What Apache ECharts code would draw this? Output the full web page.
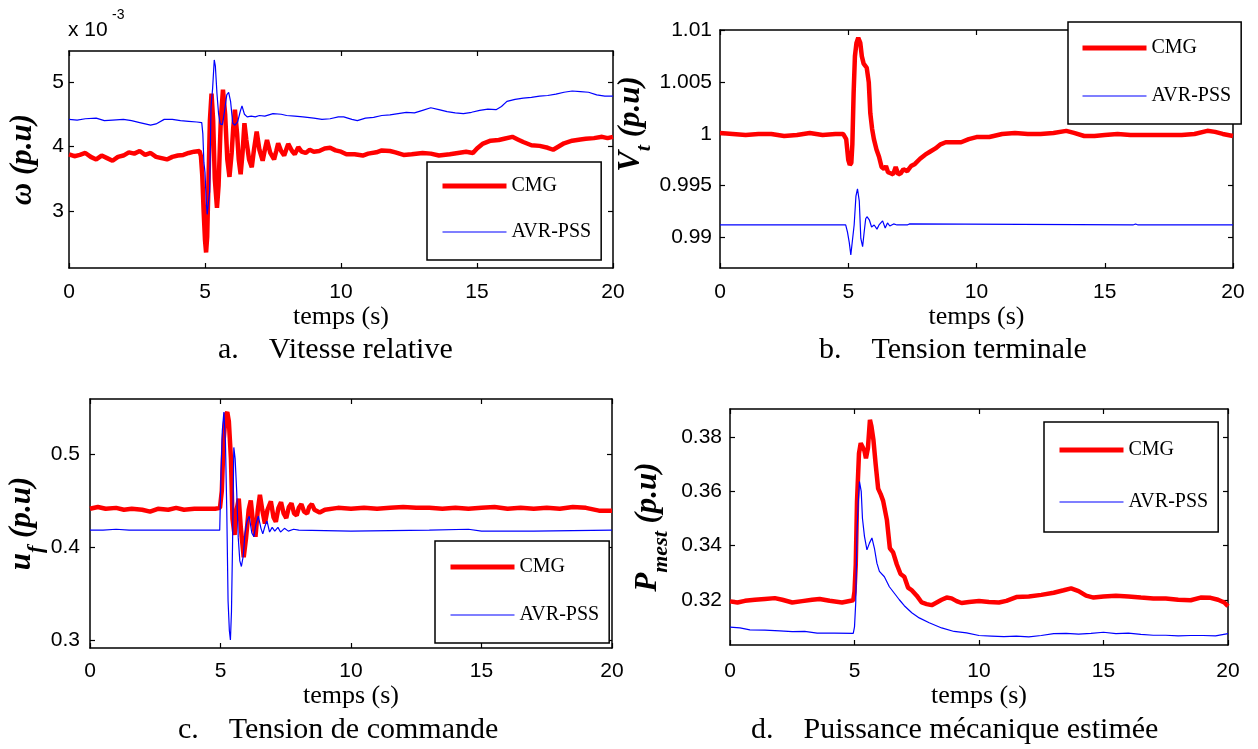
<!DOCTYPE html>
<html><head><meta charset="utf-8">
<script src="https://cdn.jsdelivr.net/npm/echarts@6/dist/echarts.min.js"></script>
<style>html,body{margin:0;padding:0;background:#fff}#c{width:1258px;height:749px}</style>
</head><body><div id="c"></div><script>
// ---- data: [time (s), value] ----
const timeTicks = [0, 5, 10, 15, 20];
const omegaTicks = [3, 4, 5];              // x 10^-3
const vtTicks = [0.99, 0.995, 1, 1.005, 1.01];
const ufTicks = [0.3, 0.4, 0.5];
const pmTicks = [0.32, 0.34, 0.36, 0.38];
const seriesNames = ['CMG', 'AVR-PSS'];

// a. relative speed (units of 1e-3 p.u.)
const omegaCMG = [[0,3.88],[0.2,3.85],[0.4,3.87],[0.6,3.90],[0.8,3.84],[1.0,3.80],[1.2,3.86],[1.4,3.82],[1.6,3.78],[1.8,3.84],[2.0,3.86],[2.2,3.91],[2.4,3.89],[2.6,3.93],[2.8,3.87],[3.0,3.90],[3.2,3.84],[3.4,3.82],[3.6,3.80],[3.8,3.84],[4.0,3.86],[4.2,3.87],[4.4,3.90],[4.6,3.92],[4.8,3.93],
[4.85,3.85],[4.9,3.55],[4.95,3.0],[5.0,2.55],[5.04,2.36],[5.08,2.6],[5.12,3.3],[5.18,4.4],[5.24,4.82],[5.30,4.4],[5.36,3.5],[5.44,3.05],[5.50,3.4],[5.58,4.4],[5.66,4.88],[5.74,4.5],[5.82,3.8],[5.90,3.53],[5.98,3.9],
[6.04,4.3],[6.10,4.57],[6.18,4.2],[6.24,3.8],[6.31,3.57],[6.38,3.9],[6.45,4.36],[6.52,4.1],[6.62,3.8],[6.72,3.68],[6.80,3.95],[6.90,4.23],
[7.0,3.95],[7.12,3.78],[7.2,3.95],[7.28,4.10],[7.4,3.9],[7.54,3.80],[7.62,3.93],[7.69,4.05],[7.8,3.93],[7.91,3.86],
[8.0,3.97],[8.06,4.04],[8.2,3.93],[8.3,3.88],[8.43,3.99],[8.55,3.92],[8.7,3.90],[8.85,3.95],
[9.0,3.92],[9.2,3.93],[9.4,3.97],[9.6,3.98],[9.8,3.94],[10.0,3.92],[10.2,3.88],[10.5,3.88],[10.8,3.86],[11.0,3.89],[11.3,3.91],[11.5,3.94],[11.8,3.93],[12.0,3.91],[12.3,3.87],[12.6,3.88],[13.0,3.90],[13.3,3.89],[13.6,3.86],[14.0,3.88],[14.3,3.90],[14.6,3.92],[14.85,3.90],[15.0,3.97],[15.2,4.04],[15.5,4.09],[15.8,4.10],[16.0,4.12],[16.3,4.15],[16.5,4.11],[16.7,4.07],[17.0,4.02],[17.3,4.01],[17.6,3.98],[17.8,3.95],[18.0,4.00],[18.2,4.05],[18.5,4.09],[18.8,4.11],[19.0,4.12],[19.3,4.13],[19.6,4.15],[19.8,4.13],[20.0,4.15]];
const omegaPSS = [[0,4.42],[0.3,4.41],[0.6,4.43],[1.0,4.44],[1.3,4.40],[1.6,4.41],[2.0,4.42],[2.3,4.40],[2.6,4.37],[3.0,4.33],[3.2,4.35],[3.5,4.42],[3.8,4.42],[4.1,4.40],[4.4,4.39],[4.7,4.38],[4.88,4.37],[4.92,4.20],[4.96,3.75],[5.0,3.6],[5.04,3.2],[5.08,2.95],[5.12,2.98],[5.17,3.3],[5.22,4.6],[5.28,4.9],[5.34,5.34],[5.38,5.25],[5.44,4.82],[5.50,4.5],[5.56,4.35],[5.64,4.34],[5.72,4.55],[5.80,4.80],[5.87,4.84],[5.94,4.7],[6.02,4.36],[6.10,4.33],[6.20,4.38],[6.30,4.55],[6.36,4.63],[6.45,4.50],[6.55,4.46],[6.7,4.47],[6.85,4.46],[7.0,4.48],[7.2,4.47],[7.5,4.51],[7.8,4.50],[8.0,4.48],[8.3,4.47],[8.6,4.46],[9.0,4.44],[9.3,4.42],[9.6,4.43],[9.9,4.46],[10.1,4.46],[10.4,4.42],[10.6,4.40],[10.9,4.44],[11.2,4.45],[11.5,4.48],[11.8,4.49],[12.1,4.51],[12.4,4.53],[12.7,4.52],[13.0,4.56],[13.3,4.60],[13.6,4.57],[13.9,4.54],[14.2,4.52],[14.5,4.51],[14.8,4.53],[15.1,4.56],[15.4,4.58],[15.7,4.57],[15.9,4.62],[16.1,4.70],[16.4,4.73],[16.7,4.75],[17.0,4.76],[17.3,4.78],[17.6,4.79],[17.9,4.81],[18.2,4.84],[18.5,4.86],[18.8,4.85],[19.1,4.84],[19.4,4.80],[19.7,4.78],[20.0,4.78]];

// b. terminal voltage
const vtCMG = [[0,1.0001],[0.5,1.0000],[1.0,0.9999],[1.5,1.0000],[2.0,1.0000],[2.5,0.9998],[3.0,0.9999],[3.5,1.0001],[4.0,0.9999],[4.5,1.0000],[4.8,1.0000],[4.92,0.9995],[5.0,0.9975],[5.06,0.9970],[5.12,0.9972],[5.16,0.9990],[5.21,1.0040],[5.26,1.0075],[5.32,1.0088],[5.39,1.0093],[5.47,1.0088],[5.53,1.0075],[5.6,1.0068],[5.72,1.0064],[5.8,1.0050],[5.86,1.0020],[5.93,1.0005],[6.0,0.9995],[6.1,0.9985],[6.2,0.9978],[6.3,0.9968],[6.4,0.9966],[6.47,0.9969],[6.55,0.9963],[6.65,0.9962],[6.75,0.9961],[6.85,0.9968],[6.95,0.9961],[7.05,0.9962],[7.15,0.9966],[7.3,0.9964],[7.45,0.9969],[7.6,0.9971],[7.8,0.9976],[8.0,0.9980],[8.2,0.9983],[8.4,0.9986],[8.6,0.9990],[8.8,0.9992],[9.0,0.9992],[9.4,0.9992],[9.7,0.9995],[10.0,0.9997],[10.5,0.9997],[11.0,1.0000],[11.5,1.0001],[12.0,1.0000],[12.5,1.0000],[13.0,1.0001],[13.5,1.0003],[13.8,1.0001],[14.2,0.9998],[14.6,0.9998],[15.0,0.9999],[15.5,1.0000],[16.0,0.9999],[16.5,0.9999],[17.0,0.9999],[17.5,0.9999],[18.0,0.9999],[18.5,1.0000],[19.0,1.0003],[19.3,1.0002],[19.6,1.0000],[20.0,0.9998]];
const vtPSS = [[0,0.9912],[4.9,0.9912],[4.97,0.9905],[5.04,0.9895],[5.10,0.9883],[5.17,0.9884],[5.23,0.9912],[5.30,0.9940],[5.36,0.9947],[5.43,0.9935],[5.49,0.9899],[5.56,0.9891],[5.62,0.9905],[5.68,0.9918],[5.73,0.9920],[5.82,0.9917],[5.91,0.9910],[6.01,0.9912],[6.12,0.9908],[6.2,0.9912],[6.34,0.9916],[6.44,0.9909],[6.53,0.9914],[6.62,0.9911],[6.77,0.9913],[6.9,0.9912],[7.3,0.9912],[7.38,0.9913],[7.45,0.9912],[16.1,0.9912],[16.2,0.9913],[16.3,0.9912],[20,0.9912]];

// c. control voltage
const ufCMG = [[0,0.441],[0.3,0.443],[0.6,0.441],[1.0,0.442],[1.3,0.440],[1.6,0.441],[2.0,0.440],[2.3,0.438],[2.6,0.441],[3.0,0.440],[3.3,0.442],[3.6,0.440],[4.0,0.441],[4.4,0.441],[4.8,0.441],[4.98,0.442],[5.05,0.460],[5.12,0.515],[5.2,0.542],[5.26,0.545],[5.32,0.535],[5.40,0.495],[5.46,0.430],[5.54,0.413],[5.62,0.440],[5.70,0.452],[5.78,0.420],[5.89,0.389],[5.98,0.410],[6.08,0.440],[6.16,0.450],[6.25,0.425],[6.34,0.411],[6.43,0.440],[6.51,0.456],[6.60,0.440],[6.70,0.425],[6.80,0.440],[6.93,0.449],[7.03,0.432],[7.12,0.427],[7.22,0.442],[7.32,0.448],[7.42,0.436],[7.52,0.431],[7.62,0.443],[7.72,0.447],[7.82,0.436],[7.92,0.434],[8.0,0.442],[8.1,0.446],[8.2,0.438],[8.32,0.436],[8.4,0.443],[8.5,0.446],[8.6,0.440],[8.8,0.437],[9.0,0.440],[9.5,0.442],[10,0.441],[10.5,0.442],[11,0.441],[11.5,0.442],[12,0.443],[12.5,0.442],[13,0.442],[13.5,0.441],[14,0.442],[14.5,0.441],[15,0.442],[15.5,0.443],[16,0.441],[16.5,0.442],[17,0.441],[17.5,0.442],[18,0.441],[18.5,0.443],[19,0.442],[19.5,0.439],[20,0.439]];
const ufPSS = [[0,0.418],[0.5,0.418],[1.0,0.419],[1.5,0.418],[2.0,0.418],[3.0,0.418],[4.0,0.418],[4.97,0.418],[5.02,0.48],[5.07,0.525],[5.13,0.545],[5.19,0.512],[5.24,0.44],[5.29,0.342],[5.34,0.31],[5.38,0.300],[5.42,0.33],[5.46,0.40],[5.51,0.507],[5.56,0.495],[5.62,0.46],[5.68,0.41],[5.74,0.385],[5.80,0.379],[5.87,0.39],[5.94,0.415],[6.02,0.428],[6.10,0.433],[6.20,0.415],[6.28,0.411],[6.36,0.425],[6.45,0.433],[6.55,0.420],[6.62,0.414],[6.70,0.422],[6.78,0.428],[6.88,0.416],[6.98,0.421],[7.08,0.417],[7.2,0.421],[7.3,0.416],[7.45,0.420],[7.6,0.417],[7.8,0.419],[8,0.418],[10,0.417],[13,0.418],[14.5,0.419],[15,0.417],[17,0.417],[20,0.418]];

// d. estimated mechanical power
const pmCMG = [[0,0.3194],[0.3,0.3190],[0.6,0.3196],[1.0,0.3200],[1.4,0.3203],[1.8,0.3206],[2.1,0.3200],[2.5,0.3190],[2.9,0.3195],[3.3,0.3200],[3.6,0.3203],[4.0,0.3196],[4.5,0.3190],[4.95,0.3198],[5.0,0.3230],[5.05,0.3330],[5.1,0.3560],[5.18,0.3740],[5.25,0.3778],[5.32,0.3772],[5.4,0.3750],[5.46,0.3722],[5.54,0.3760],[5.62,0.3864],[5.68,0.3840],[5.76,0.3790],[5.85,0.3700],[5.95,0.3610],[6.05,0.3590],[6.15,0.3565],[6.3,0.3495],[6.42,0.3390],[6.55,0.3375],[6.7,0.3330],[6.85,0.3295],[7.0,0.3285],[7.15,0.3245],[7.3,0.3235],[7.5,0.3215],[7.7,0.3190],[7.9,0.3184],[8.1,0.3180],[8.3,0.3190],[8.5,0.3200],[8.7,0.3208],[8.9,0.3205],[9.1,0.3195],[9.3,0.3188],[9.6,0.3192],[10,0.3195],[10.4,0.3192],[10.8,0.3190],[11.1,0.3196],[11.5,0.3210],[12.0,0.3212],[12.5,0.3218],[13.0,0.3226],[13.4,0.3235],[13.7,0.3242],[14.0,0.3232],[14.3,0.3215],[14.6,0.3208],[15.0,0.3212],[15.5,0.3215],[16.0,0.3212],[16.5,0.3208],[17.0,0.3205],[17.5,0.3205],[18.0,0.3200],[18.5,0.3198],[18.9,0.3208],[19.3,0.3207],[19.6,0.3200],[19.85,0.3190],[20,0.3176]];
const pmPSS = [[0,0.3099],[0.4,0.3096],[0.8,0.3089],[1.4,0.3088],[2.0,0.3085],[2.5,0.3082],[3.0,0.3083],[3.5,0.3077],[4.2,0.3077],[4.95,0.3076],[5.0,0.3100],[5.05,0.3190],[5.1,0.3446],[5.15,0.3560],[5.2,0.3636],[5.27,0.3600],[5.32,0.3500],[5.4,0.3434],[5.5,0.3384],[5.6,0.3409],[5.7,0.3428],[5.8,0.3390],[5.9,0.3335],[6.0,0.3305],[6.2,0.3285],[6.4,0.3248],[6.6,0.3224],[6.8,0.3200],[7.0,0.3178],[7.3,0.3152],[7.6,0.3133],[8.0,0.3115],[8.5,0.3096],[9.0,0.3083],[9.5,0.3078],[10,0.3068],[10.5,0.3066],[11,0.3064],[11.5,0.3066],[12,0.3063],[12.5,0.3068],[13,0.3075],[13.5,0.3076],[14,0.3073],[14.5,0.3076],[15,0.3080],[15.5,0.3075],[16,0.3077],[16.5,0.3072],[17,0.3069],[17.5,0.3069],[18,0.3067],[18.5,0.3068],[19,0.3068],[19.5,0.3067],[20,0.3075]];

// ---- layout ----
const SANS = 'Liberation Sans', SERIF = 'Liberation Serif';
const panels = [
  {grid:{left:69, top:51, width:544, height:217}, ymin:2.119, ymax:5.479, ticks:omegaTicks, data:[omegaCMG, omegaPSS],
   name:'{m|ω (p.u)}', nameGap:22, labelMargin:5, xNameGap:26, xLabelMargin:14,
   legend:{left:427, top:162, padding:[14,10,18,13], gap:26}},
  {grid:{left:720, top:30, width:513, height:238}, ymin:0.98704, ymax:1.01005, ticks:vtTicks, data:[vtCMG, vtPSS],
   name:'{m0|V}{s|t}{m| (p.u)}', nameGap:44, labelMargin:8, xNameGap:26, xLabelMargin:14,
   legend:{left:1068, top:22, padding:[16,10,18,12], gap:28}},
  {grid:{left:90, top:399, width:522, height:249}, ymin:0.2914, ymax:0.559, ticks:ufTicks, data:[ufCMG, ufPSS],
   name:'{m|u}{s|f}{m| (p.u)}', nameGap:40, labelMargin:10, xNameGap:29, xLabelMargin:13,
   legend:{left:435, top:541, padding:[16,10,18,13], gap:28}},
  {grid:{left:730, top:409, width:498, height:236}, ymin:0.3033, ymax:0.3904, ticks:pmTicks, data:[pmCMG, pmPSS],
   name:'{m|P}{s|mest}{m| (p.u)}', nameGap:58, labelMargin:8, xNameGap:34, xLabelMargin:16,
   legend:{left:1044, top:422, padding:[18,10,20,13], gap:32}}
];

const frame = {show:true, onZero:false, lineStyle:{color:'#000', width:1.5}};
const tick = (vals) => ({show:true, inside:true, length:5, lineStyle:{color:'#000', width:1.2}, customValues:vals});
const mStyle = {fontFamily:SERIF, fontStyle:'italic', fontWeight:'bold', fontSize:31, color:'#000', padding:[0,0,9,0], verticalAlign:'bottom'};
const nameRich = {
  m: mStyle,
  m0: Object.assign({}, mStyle, {padding:[0,0,9,50]}),
  s:{fontFamily:SERIF, fontStyle:'italic', fontWeight:'bold', fontSize:22, color:'#000', verticalAlign:'bottom'}
};
const legendItems = [
  {name:seriesNames[0], lineStyle:{color:'#ff0000', width:5}},
  {name:seriesNames[1], lineStyle:{color:'#0000ff', width:1.2}}
];

const grid = [], xAxis = [], yAxis = [], series = [], legend = [];
panels.forEach((p, g) => {
  grid.push(Object.assign({containLabel:false, show:false}, p.grid));
  xAxis.push({type:'value', gridIndex:g, position:'bottom', min:0, max:20, axisLine:frame, axisTick:tick(timeTicks),
    axisLabel:{customValues:timeTicks, margin:p.xLabelMargin, fontFamily:SANS, fontSize:21, color:'#000'},
    splitLine:{show:false}, name:'temps (s)', nameLocation:'middle', nameGap:p.xNameGap,
    nameTextStyle:{fontFamily:SERIF, fontSize:26, color:'#000'}});
  xAxis.push({type:'value', gridIndex:g, position:'top', min:0, max:20, axisLine:frame, axisTick:tick(timeTicks),
    axisLabel:{show:false}, splitLine:{show:false}});
  yAxis.push({type:'value', gridIndex:g, position:'left', min:p.ymin, max:p.ymax, axisLine:frame, axisTick:tick(p.ticks),
    axisLabel:{customValues:p.ticks, margin:p.labelMargin, fontFamily:SANS, fontSize:21, color:'#000'},
    splitLine:{show:false}, name:p.name, nameLocation:'middle', nameGap:p.nameGap, nameRotate:90,
    nameTextStyle:{rich:nameRich}});
  yAxis.push({type:'value', gridIndex:g, position:'right', min:p.ymin, max:p.ymax, axisLine:frame, axisTick:tick(p.ticks),
    axisLabel:{show:false}, splitLine:{show:false}});
  series.push({type:'line', name:seriesNames[0], xAxisIndex:2*g, yAxisIndex:2*g, data:p.data[0], symbol:'none', showSymbol:false,
    lineStyle:{color:'#ff0000', width:4.5}, itemStyle:{color:'#ff0000'}, z:2});
  series.push({type:'line', name:seriesNames[1], xAxisIndex:2*g, yAxisIndex:2*g, data:p.data[1], symbol:'none', showSymbol:false,
    lineStyle:{color:'#0000ff', width:1.2}, itemStyle:{color:'#0000ff'}, z:3});
  legend.push({orient:'vertical', left:p.legend.left, top:p.legend.top, padding:p.legend.padding, itemGap:p.legend.gap,
    data:legendItems, itemWidth:64, itemHeight:20, selectedMode:false, backgroundColor:'#fff',
    itemStyle:{opacity:0}, borderColor:'#000', borderWidth:1.5, borderRadius:0, z:10,
    textStyle:{fontFamily:SERIF, fontSize:20, color:'#000', lineHeight:20}});
});

const capStyle = {fontFamily:SERIF, fontSize:30, color:'#000', fontWeight:'normal'};
const title = [
  {text:'a.    Vitesse relative', left:213, top:330, textStyle:capStyle},
  {text:'b.    Tension terminale', left:814, top:330, textStyle:capStyle},
  {text:'c.    Tension de commande', left:173, top:710, textStyle:capStyle},
  {text:'d.    Puissance mécanique estimée', left:746, top:710, textStyle:capStyle}
];

const chart = echarts.init(document.getElementById('c'), null, {renderer:'canvas'});
chart.setOption({
  animation:false, backgroundColor:'#fff',
  title, grid, xAxis, yAxis, series, legend,
  graphic:[
    {type:'text', left:68, top:20, style:{text:'x 10', font:'21px "Liberation Sans"', fill:'#000'}},
    {type:'text', left:112, top:8, style:{text:'-3', font:'14px "Liberation Sans"', fill:'#000'}}
  ]
});
</script></body></html>
